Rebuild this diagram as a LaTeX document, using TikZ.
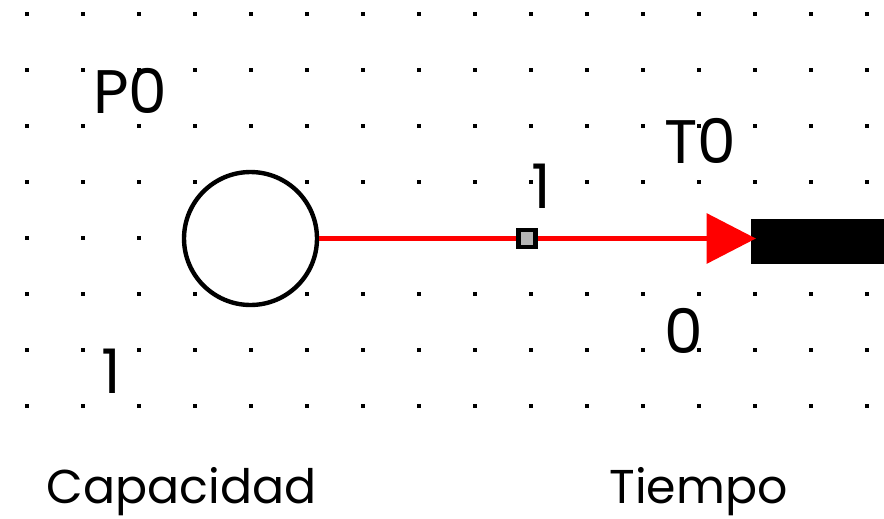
\documentclass[tikz,border=0pt]{standalone}
\usepackage{fontspec}
\setmainfont{Poppins}
\usetikzlibrary{arrows.meta,positioning}
\definecolor{ArcRed}{HTML}{FF0000}
\definecolor{HandleGray}{HTML}{B4B4B4}

\begin{document}
\begin{tikzpicture}[x=.02cm,y=-.02cm,
    lbl/.style={font=\fontsize{35}{35}\selectfont,inner sep=0pt,anchor=base},
    captxt/.style={font=\fontsize{27}{27}\selectfont,inner sep=0pt,anchor=base}]
  \useasboundingbox (0,0) rectangle (884,518);
  % grid of dots
  \foreach \i in {0,...,15}{
    \foreach \j in {0,...,7}{
      \fill (27+56*\i-2.3,14+56*\j-2.3) rectangle ++(4.6,4.6);}}
  \node[circle,draw,fill=white,line width=2.5pt,minimum size=2.66cm,inner sep=0pt] (p0) at (250.5,238.5) {};
  \node[fill=black,minimum width=2.66cm,minimum height=.9cm,inner sep=0pt,anchor=west] (t0) at (751,241.5) {};
  \draw[ArcRed,line width=3.1pt,-{Triangle[length=28pt,width=28pt]},shorten >=-2.8pt]
    (p0.east) -- node[pos=.482,draw=black,fill=HandleGray,line width=2.8pt,minimum size=.34cm,inner sep=0pt] (w) {} (p0.east -| t0.west);
  \node[lbl] (p0name) at (130.5,113) {P0};
  \node[lbl] (t0name) at (700.5,163) {T0};
  \node[lbl] (wlabel) at (541,208) {1};
  \node[lbl] (p0tokens) at (111,393) {1};
  \node[lbl] (t0delay) at (684,353) {0};
  \node[captxt] (p0cap) at (181.5,503) {Capacidad};
  \node[captxt] (t0cap) at (698.5,503) {Tiempo};
\end{tikzpicture}
\end{document}
